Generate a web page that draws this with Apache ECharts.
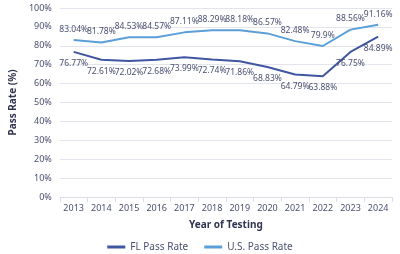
<!DOCTYPE html>
<html>
<head>
<meta charset="utf-8">
<script src="https://cdn.jsdelivr.net/npm/echarts@6/dist/echarts.min.js"></script>
<style>
  html, body { margin: 0; padding: 0; background: #fff; }
  #chart { width: 400px; height: 254px; }
</style>
</head>
<body>
<div id="chart"></div>
<script>
const years = ['2013', '2014', '2015', '2016', '2017', '2018', '2019', '2020', '2021', '2022', '2023', '2024']
const flRate = [76.77, 72.61, 72.02, 72.68, 73.99, 72.74, 71.86, 68.83, 64.79, 63.88, 76.75, 84.89]
const usRate = [83.04, 81.78, 84.53, 84.57, 87.11, 88.29, 88.18, 86.57, 82.48, 79.9, 88.56, 91.16]

const textColor = '#4a5070'
const font = 'Noto Sans'

const chart = echarts.init(document.getElementById('chart'))

const labelFmt = p => p.value + '%'

chart.setOption({
    animation: false,
    textStyle: { fontFamily: font },
    grid: { left: 50, right: 8, top: 8, bottom: 57 },
    legend: {
        bottom: 2,
        padding: 0,
        left: 'center',
        itemWidth: 18,
        itemHeight: 3,
        itemGap: 16,
        itemTextGap: 2,
        icon: 'rect',
        textStyle: { color: textColor, fontSize: 10, fontFamily: font },
        data: ['FL Pass Rate', 'U.S. Pass Rate']
    },
    xAxis: {
        type: 'category',
        data: years,
        boundaryGap: true,
        name: 'Year of Testing',
        nameLocation: 'middle',
        nameGap: 23,
        nameTextStyle: { color: '#2e3550', fontWeight: 'bold', fontSize: 10, fontFamily: font },
        axisLine: { lineStyle: { color: '#dcdde8' } },
        axisTick: { show: true, lineStyle: { color: '#dcdde8' } },
        axisLabel: { color: textColor, fontSize: 9, margin: 7 }
    },
    yAxis: {
        type: 'value',
        min: 0,
        max: 100,
        interval: 10,
        name: 'Pass Rate (%)',
        nameLocation: 'middle',
        nameGap: 35,
        nameTextStyle: { color: '#2e3550', fontWeight: 'bold', fontSize: 10, fontFamily: font },
        axisLine: { show: false },
        axisTick: { show: false },
        axisLabel: { color: textColor, fontSize: 9, formatter: '{value}%', margin: 8 },
        splitLine: { lineStyle: { color: '#e4e4ef' } }
    },
    series: [
        {
            name: 'FL Pass Rate',
            type: 'line',
            data: flRate,
            symbol: 'circle',
            symbolSize: 0.1,
            color: '#3f57a0',
            lineStyle: { width: 2 },
            label: { show: true, position: 'bottom', distance: 7, color: textColor, fontSize: 8.5, formatter: labelFmt }
        },
        {
            name: 'U.S. Pass Rate',
            type: 'line',
            data: usRate,
            symbol: 'circle',
            symbolSize: 0.1,
            color: '#5b9fd8',
            lineStyle: { width: 2 },
            label: { show: true, position: 'top', distance: 6, color: textColor, fontSize: 8.5, formatter: labelFmt }
        }
    ]
})
</script>
</body>
</html>
